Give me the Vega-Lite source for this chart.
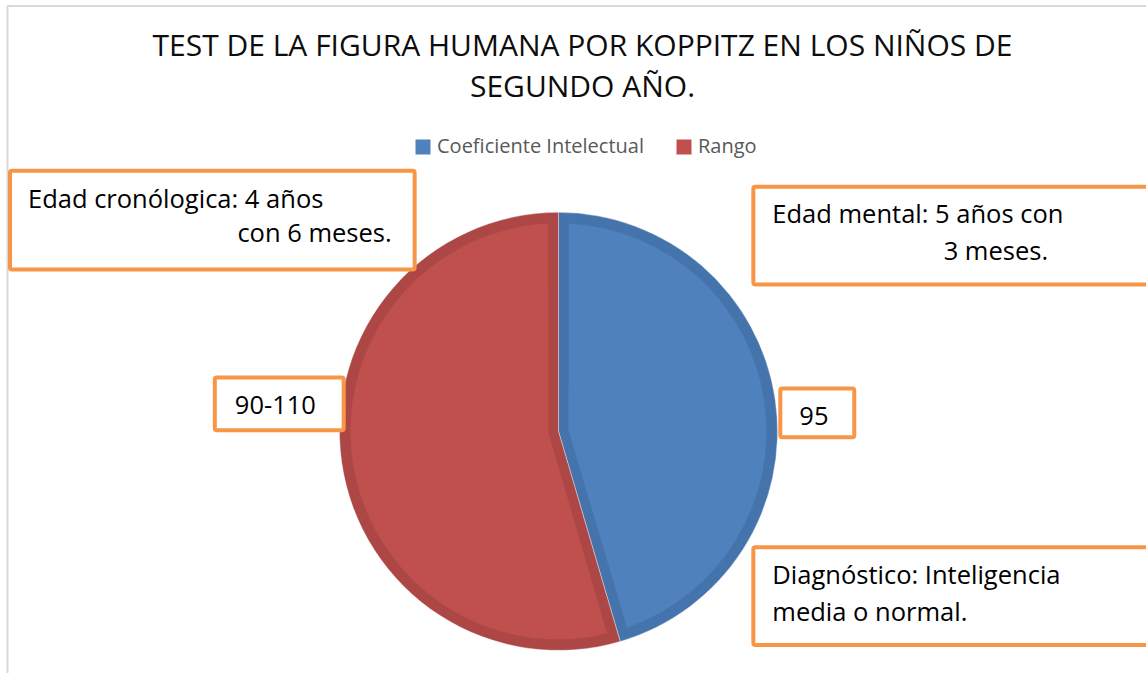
{
  "$schema": "https://vega.github.io/schema/vega-lite/v6.json",
  "width": 1147,
  "height": 674,
  "autosize": {"type": "fit", "contains": "padding"},
  "padding": 0,
  "background": "#ffffff",
  "config": {"view": {"stroke": null}, "font": "Open Sans"},
  "datasets": {
    "pie": [
      {"categoria": "Coeficiente Intelectual", "valor": 95},
      {"categoria": "Rango", "valor": 114}
    ]
  },
  "layer": [
    {
      "data": {"values": [{"marco": "superior"}]},
      "mark": {"type": "rule", "color": "#D9D9D9", "strokeWidth": 2},
      "encoding": {
        "x": {"datum": 7, "type": "quantitative", "scale": {"domain": [0, 1147], "nice": false, "zero": false}, "axis": null},
        "x2": {"datum": 1147},
        "y": {"datum": 6, "type": "quantitative", "scale": {"domain": [0, 674], "nice": false, "zero": false, "reverse": true}, "axis": null}
      }
    },
    {
      "data": {"values": [{"marco": "izquierdo"}]},
      "mark": {"type": "rule", "color": "#D9D9D9", "strokeWidth": 2},
      "encoding": {
        "x": {"datum": 7.5, "type": "quantitative", "scale": {"domain": [0, 1147], "nice": false, "zero": false}, "axis": null},
        "y": {"datum": 6, "type": "quantitative", "scale": {"domain": [0, 674], "nice": false, "zero": false, "reverse": true}, "axis": null},
        "y2": {"datum": 674}
      }
    },
    {
      "data": {"values": [{"texto": "TEST DE LA FIGURA HUMANA POR KOPPITZ EN LOS NIÑOS DE"}]},
      "mark": {"type": "text", "font": "Open Sans", "fontSize": 30, "color": "#0D0D0D", "align": "center", "baseline": "alphabetic"},
      "encoding": {
        "text": {"field": "texto"},
        "x": {"datum": 583, "type": "quantitative", "scale": {"domain": [0, 1147], "nice": false, "zero": false}, "axis": null},
        "y": {"datum": 56, "type": "quantitative", "scale": {"domain": [0, 674], "nice": false, "zero": false, "reverse": true}, "axis": null}
      }
    },
    {
      "data": {"values": [{"texto": "SEGUNDO AÑO."}]},
      "mark": {"type": "text", "font": "Open Sans", "fontSize": 30, "color": "#0D0D0D", "align": "center", "baseline": "alphabetic"},
      "encoding": {
        "text": {"field": "texto"},
        "x": {"datum": 583, "type": "quantitative", "scale": {"domain": [0, 1147], "nice": false, "zero": false}, "axis": null},
        "y": {"datum": 97, "type": "quantitative", "scale": {"domain": [0, 674], "nice": false, "zero": false, "reverse": true}, "axis": null}
      }
    },
    {
      "data": {"name": "pie"},
      "mark": {"type": "arc", "outerRadius": 219, "innerRadius": 0, "stroke": "#ffffff", "strokeWidth": 1, "strokeOpacity": 0.35},
      "encoding": {
        "theta": {"field": "valor", "type": "quantitative", "stack": true},
        "order": {"field": "categoria"},
        "color": {"condition": {"test": "datum.categoria === 'Rango'", "value": "#AD4745"}, "value": "#4573AC"},
        "x": {"datum": 559, "type": "quantitative", "scale": {"domain": [0, 1147], "nice": false, "zero": false}, "axis": null},
        "y": {"datum": 432, "type": "quantitative", "scale": {"domain": [0, 674], "nice": false, "zero": false, "reverse": true}, "axis": null}
      }
    },
    {
      "data": {"name": "pie"},
      "mark": {"type": "arc", "outerRadius": 208, "innerRadius": 10, "padAngle": 0.1},
      "encoding": {
        "theta": {"field": "valor", "type": "quantitative", "stack": true},
        "order": {"field": "categoria"},
        "color": {
          "field": "categoria",
          "type": "nominal",
          "scale": {"domain": ["Coeficiente Intelectual", "Rango"], "range": ["#4F81BD", "#C0504D"]},
          "legend": {
            "orient": "none",
            "legendX": 413,
            "legendY": 137,
            "direction": "horizontal",
            "title": null,
            "symbolType": "square",
            "symbolSize": 225,
            "symbolStrokeWidth": 0,
            "symbolOpacity": 1,
            "labelFont": "Open Sans",
            "labelFontSize": 20,
            "labelColor": "#595959",
            "labelOffset": 4,
            "labelLimit": 400,
            "columnPadding": 30,
            "padding": 0
          }
        },
        "x": {"datum": 559, "type": "quantitative", "scale": {"domain": [0, 1147], "nice": false, "zero": false}, "axis": null},
        "y": {"datum": 432, "type": "quantitative", "scale": {"domain": [0, 674], "nice": false, "zero": false, "reverse": true}, "axis": null}
      }
    },
    {
      "data": {"values": [{"cuadro": "Edad cronológica"}]},
      "mark": {"type": "rect", "fill": "#ffffff", "stroke": "#F79646", "strokeWidth": 4, "cornerRadius": 2},
      "encoding": {
        "x": {"datum": 10, "type": "quantitative", "scale": {"domain": [0, 1147], "nice": false, "zero": false}, "axis": null},
        "x2": {"datum": 415},
        "y": {"datum": 171, "type": "quantitative", "scale": {"domain": [0, 674], "nice": false, "zero": false, "reverse": true}, "axis": null},
        "y2": {"datum": 270}
      }
    },
    {
      "data": {"values": [{"cuadro": "Edad mental"}]},
      "mark": {"type": "rect", "fill": "#ffffff", "stroke": "#F79646", "strokeWidth": 4, "cornerRadius": 2, "clip": true},
      "encoding": {
        "x": {"datum": 754, "type": "quantitative", "scale": {"domain": [0, 1147], "nice": false, "zero": false}, "axis": null},
        "x2": {"datum": 1160},
        "y": {"datum": 187, "type": "quantitative", "scale": {"domain": [0, 674], "nice": false, "zero": false, "reverse": true}, "axis": null},
        "y2": {"datum": 285}
      }
    },
    {
      "data": {"values": [{"cuadro": "Rango"}]},
      "mark": {"type": "rect", "fill": "#ffffff", "stroke": "#F79646", "strokeWidth": 4, "cornerRadius": 2},
      "encoding": {
        "x": {"datum": 215, "type": "quantitative", "scale": {"domain": [0, 1147], "nice": false, "zero": false}, "axis": null},
        "x2": {"datum": 344},
        "y": {"datum": 378, "type": "quantitative", "scale": {"domain": [0, 674], "nice": false, "zero": false, "reverse": true}, "axis": null},
        "y2": {"datum": 431}
      }
    },
    {
      "data": {"values": [{"cuadro": "Coeficiente Intelectual"}]},
      "mark": {"type": "rect", "fill": "#ffffff", "stroke": "#F79646", "strokeWidth": 4, "cornerRadius": 2},
      "encoding": {
        "x": {"datum": 781, "type": "quantitative", "scale": {"domain": [0, 1147], "nice": false, "zero": false}, "axis": null},
        "x2": {"datum": 855},
        "y": {"datum": 389, "type": "quantitative", "scale": {"domain": [0, 674], "nice": false, "zero": false, "reverse": true}, "axis": null},
        "y2": {"datum": 438}
      }
    },
    {
      "data": {"values": [{"cuadro": "Diagnóstico"}]},
      "mark": {"type": "rect", "fill": "#ffffff", "stroke": "#F79646", "strokeWidth": 4, "cornerRadius": 2, "clip": true},
      "encoding": {
        "x": {"datum": 754, "type": "quantitative", "scale": {"domain": [0, 1147], "nice": false, "zero": false}, "axis": null},
        "x2": {"datum": 1160},
        "y": {"datum": 548, "type": "quantitative", "scale": {"domain": [0, 674], "nice": false, "zero": false, "reverse": true}, "axis": null},
        "y2": {"datum": 646}
      }
    },
    {
      "data": {"values": [{"texto": "Edad cronólogica: 4 años"}]},
      "mark": {"type": "text", "font": "Open Sans", "fontSize": 25.5, "color": "#000000", "align": "left", "baseline": "alphabetic"},
      "encoding": {
        "text": {"field": "texto"},
        "x": {"datum": 28, "type": "quantitative", "scale": {"domain": [0, 1147], "nice": false, "zero": false}, "axis": null},
        "y": {"datum": 208, "type": "quantitative", "scale": {"domain": [0, 674], "nice": false, "zero": false, "reverse": true}, "axis": null}
      }
    },
    {
      "data": {"values": [{"texto": "con 6 meses."}]},
      "mark": {"type": "text", "font": "Open Sans", "fontSize": 25.5, "color": "#000000", "align": "right", "baseline": "alphabetic"},
      "encoding": {
        "text": {"field": "texto"},
        "x": {"datum": 392, "type": "quantitative", "scale": {"domain": [0, 1147], "nice": false, "zero": false}, "axis": null},
        "y": {"datum": 242, "type": "quantitative", "scale": {"domain": [0, 674], "nice": false, "zero": false, "reverse": true}, "axis": null}
      }
    },
    {
      "data": {"values": [{"texto": "Edad mental: 5 años con"}]},
      "mark": {"type": "text", "font": "Open Sans", "fontSize": 25.5, "color": "#000000", "align": "left", "baseline": "alphabetic"},
      "encoding": {
        "text": {"field": "texto"},
        "x": {"datum": 773, "type": "quantitative", "scale": {"domain": [0, 1147], "nice": false, "zero": false}, "axis": null},
        "y": {"datum": 223, "type": "quantitative", "scale": {"domain": [0, 674], "nice": false, "zero": false, "reverse": true}, "axis": null}
      }
    },
    {
      "data": {"values": [{"texto": "3 meses."}]},
      "mark": {"type": "text", "font": "Open Sans", "fontSize": 25.5, "color": "#000000", "align": "right", "baseline": "alphabetic"},
      "encoding": {
        "text": {"field": "texto"},
        "x": {"datum": 1049, "type": "quantitative", "scale": {"domain": [0, 1147], "nice": false, "zero": false}, "axis": null},
        "y": {"datum": 260, "type": "quantitative", "scale": {"domain": [0, 674], "nice": false, "zero": false, "reverse": true}, "axis": null}
      }
    },
    {
      "data": {"values": [{"texto": "90-110"}]},
      "mark": {"type": "text", "font": "Open Sans", "fontSize": 25.5, "color": "#000000", "align": "left", "baseline": "alphabetic"},
      "encoding": {
        "text": {"field": "texto"},
        "x": {"datum": 235, "type": "quantitative", "scale": {"domain": [0, 1147], "nice": false, "zero": false}, "axis": null},
        "y": {"datum": 415, "type": "quantitative", "scale": {"domain": [0, 674], "nice": false, "zero": false, "reverse": true}, "axis": null}
      }
    },
    {
      "data": {"values": [{"texto": "95"}]},
      "mark": {"type": "text", "font": "Open Sans", "fontSize": 25.5, "color": "#000000", "align": "left", "baseline": "alphabetic"},
      "encoding": {
        "text": {"field": "texto"},
        "x": {"datum": 800, "type": "quantitative", "scale": {"domain": [0, 1147], "nice": false, "zero": false}, "axis": null},
        "y": {"datum": 426, "type": "quantitative", "scale": {"domain": [0, 674], "nice": false, "zero": false, "reverse": true}, "axis": null}
      }
    },
    {
      "data": {"values": [{"texto": "Diagnóstico: Inteligencia"}]},
      "mark": {"type": "text", "font": "Open Sans", "fontSize": 25.5, "color": "#000000", "align": "left", "baseline": "alphabetic"},
      "encoding": {
        "text": {"field": "texto"},
        "x": {"datum": 773, "type": "quantitative", "scale": {"domain": [0, 1147], "nice": false, "zero": false}, "axis": null},
        "y": {"datum": 585, "type": "quantitative", "scale": {"domain": [0, 674], "nice": false, "zero": false, "reverse": true}, "axis": null}
      }
    },
    {
      "data": {"values": [{"texto": "media o normal."}]},
      "mark": {"type": "text", "font": "Open Sans", "fontSize": 25.5, "color": "#000000", "align": "left", "baseline": "alphabetic"},
      "encoding": {
        "text": {"field": "texto"},
        "x": {"datum": 773, "type": "quantitative", "scale": {"domain": [0, 1147], "nice": false, "zero": false}, "axis": null},
        "y": {"datum": 622, "type": "quantitative", "scale": {"domain": [0, 674], "nice": false, "zero": false, "reverse": true}, "axis": null}
      }
    }
  ]
}
